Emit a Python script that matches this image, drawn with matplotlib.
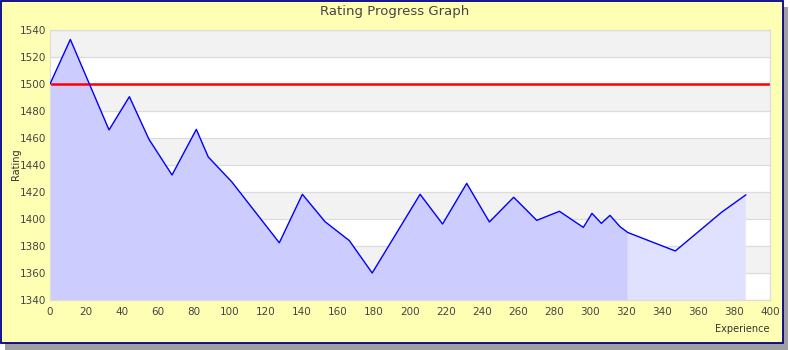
import matplotlib
matplotlib.use("Agg")
import matplotlib.pyplot as plt
from matplotlib.patches import Rectangle
import numpy as np

# Data
experience = [0, 11.3, 32.8, 44.1, 55.0, 67.8, 81.3, 87.9, 101.0, 127.4, 140.2, 152.8,
              166.3, 179.0, 205.6, 218.1, 231.5, 244.1, 257.6, 270.4, 283.0, 296.3,
              301.1, 306.3, 311.1, 316.7, 321.0, 347.4, 373.1, 386.5]
rating = [1500, 1533, 1466, 1490.6, 1459, 1432.6, 1466.4, 1446, 1427.5, 1382.4, 1418.3, 1398,
          1384, 1360, 1418.3, 1396.3, 1426.4, 1397.8, 1416.1, 1399, 1405.7, 1393.8,
          1404.2, 1396.8, 1402.7, 1394.3, 1390, 1376.3, 1405, 1417.8]
split_x = 321.0
baseline = 1500
x_ticks = list(range(0, 401, 20))
y_ticks = list(range(1340, 1541, 20))

W, H = 790, 350
fig = plt.figure(figsize=(W / 100, H / 100), dpi=100, facecolor="white")

# shadow and yellow frame
fig.patches.append(Rectangle((5 / W, 0), 783 / W, 1 - 7 / H, transform=fig.transFigure,
                             facecolor="#a0a0a0", edgecolor="none", zorder=0))
fig.patches.append(Rectangle((1 / W, 7 / H), 782 / W, 1 - 8 / H, transform=fig.transFigure,
                             facecolor="#ffffb4", edgecolor="#000088", linewidth=1.3, zorder=1))

left, right, top, bottom = 50, 770, 30, 300
ax = fig.add_axes([left / W, 1 - bottom / H, (right - left) / W, (bottom - top) / H])
ax.set_zorder(2)
ax.set_xlim(0, 400)
ax.set_ylim(1340, 1540)
ax.set_facecolor("white")

# alternating bands
for i, y0 in enumerate(y_ticks[:-1]):
    if i % 2 == 1:
        ax.axhspan(y0, y0 + 20, facecolor="#f2f2f2", edgecolor="none", zorder=0)
for y in y_ticks:
    ax.axhline(y, color="#dcdcdc", linewidth=0.9, zorder=0.5)

x = np.array(experience)
r = np.array(rating)
m1 = x <= split_x
m2 = x >= split_x
ax.fill_between(x[m1], 1340, r[m1], facecolor="#ccccff", edgecolor="none", zorder=1)
ax.fill_between(x[m2], 1340, r[m2], facecolor="#e0e0ff", edgecolor="none", zorder=1)
ax.plot(x, r, color="#0000ff", linewidth=1.0, zorder=3)
ax.axhline(baseline, color="#ff0000", linewidth=1.8, zorder=2)

for s in ax.spines.values():
    s.set_color("#dcdcdc")
    s.set_linewidth(0.9)

ax.set_xticks(x_ticks)
ax.set_yticks(y_ticks)
ax.tick_params(length=0, labelsize=7.5, labelcolor="#444444", pad=5)
ax.tick_params(axis="y", pad=3)

fig.text(395 / W, 1 - 11 / H, "Rating Progress Graph", ha="center", va="center",
         fontsize=9.5, color="#444444")
fig.text(16 / W, 1 - 164 / H, "Rating", ha="center", va="center", rotation=90,
         fontsize=7, color="#333333")
fig.text(769 / W, 1 - 329 / H, "Experience", ha="right", va="center",
         fontsize=7, color="#333333")

fig.savefig("out.png", dpi=100, facecolor="white")
